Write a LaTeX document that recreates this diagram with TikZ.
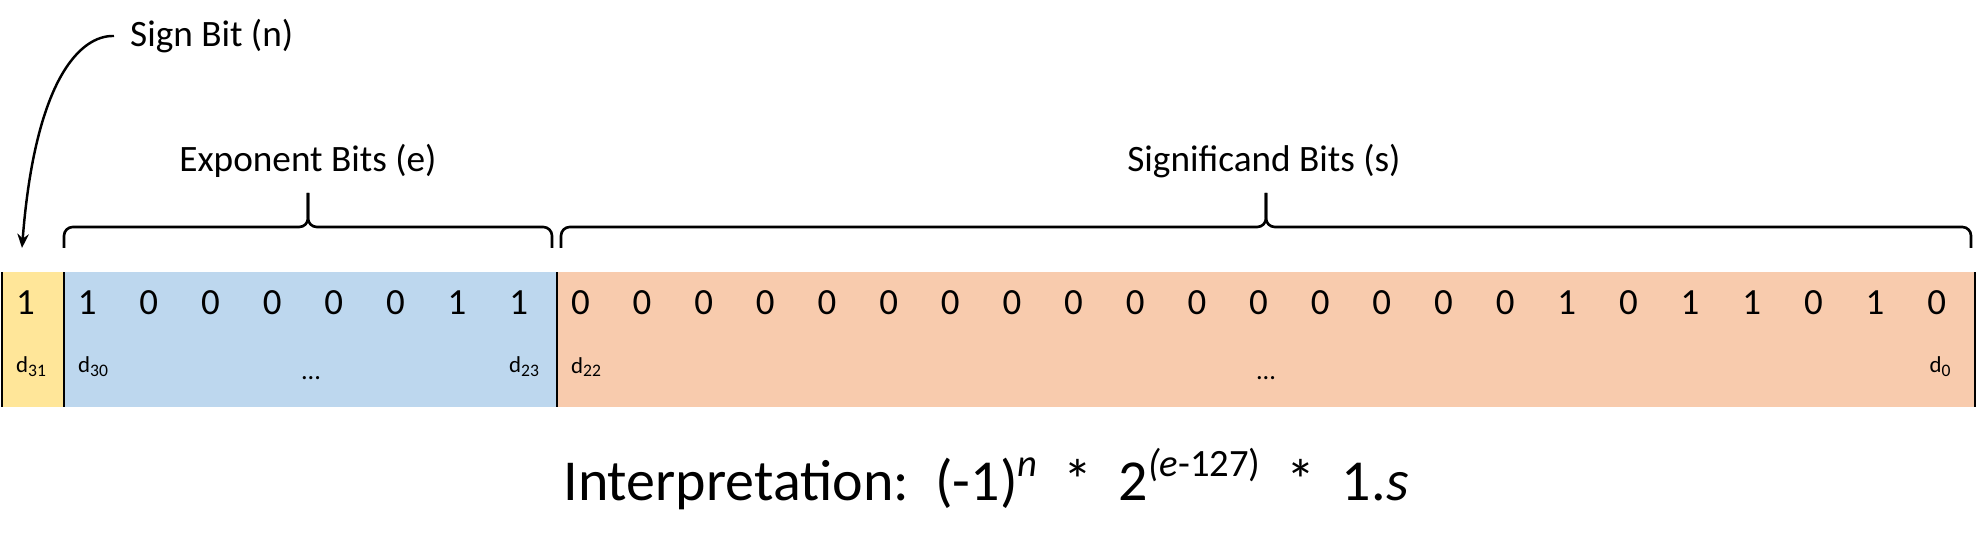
\documentclass[tikz,border=0pt]{standalone}
\usepackage{fontspec}
\setmainfont{Carlito}
\usetikzlibrary{positioning}
\usetikzlibrary{arrows.meta}
\definecolor{signyellow}{HTML}{FFE699}
\definecolor{expblue}{HTML}{BDD7EE}
\definecolor{sigorange}{HTML}{F8CBAD}
\tikzstyle{bit}=[inner sep=0pt,font=\fontsize{21}{24}\selectfont]
\tikzstyle{idx}=[inner sep=0pt,font=\fontsize{13}{15}\selectfont]
\tikzstyle{title}=[inner sep=0pt,font=\fontsize{21.2}{25}\selectfont]
\tikzstyle{divider}=[draw,line width=1.1pt]
\tikzstyle{brace}=[draw,line width=1.5pt,rounded corners=5pt]
\tikzstyle{pointer}=[draw,line width=1.4pt,-{Stealth[length=8pt,width=6.5pt]}]
\newcommand{\dsub}[1]{d\raisebox{-0.35ex}{\fontsize{10}{12}\selectfont #1}}
\newcommand{\supx}[1]{\raisebox{0.4em}{\fontsize{22}{26}\selectfont #1}}

\begin{document}
\begin{tikzpicture}[x=0.02cm,y=0.02cm]
\useasboundingbox (0,0) rectangle (1976,550);

    % the three fields of the word
    \def\w{61.65};
    \fill[signyellow] (2,143) rectangle (2+\w,278);
    \fill[expblue] (2+\w,143) rectangle (2+9*\w,278);
    \fill[sigorange] (2+9*\w,143) rectangle (2+32*\w,278);
    \foreach \k in {0,1,9,32}
        \path[divider] (2+\k*\w,143) -- (2+\k*\w,278);

    % the bits, left to right
    \foreach \v [count=\k from 0] in {1, 1,0,0,0,0,0,1,1, 0,0,0,0,0,0,0,0,0,0,0,0,0,0,0,0,1,0,1,1,0,1,0}
        \node[bit] (b\k) at (2+\k*\w+23.5,247) {\v};

    % bit indices
    \foreach \pos/\name/\label in {{(31,183)/d31/31}, {(93,183)/d30/30}, {(524,183)/d23/23}, {(586,183)/d22/22}, {(1940,183)/d0/0}}
        \node[idx] (\name) at \pos {\dsub{\label}};
    \node[idx, font=\fontsize{15}{17}\selectfont] (expdots) at (311,172) {...};
    \node[idx, font=\fontsize{15}{17}\selectfont] (sigdots) at (1266,172) {...};

    % braces and their labels
    \foreach \a/\b/\m in {64/552/308, 561/1971/1266}{
        \path[brace] (\a,302) -- (\a,323) -- (\m,323) -- (\m,357);
        \path[brace] (\b,302) -- (\b,323) -- (\m,323) -- (\m,357);
    }
    \node[title] (explbl) at (308,389) {Exponent Bits (e)};
    \node[title] (siglbl) at (1264,389) {Significand Bits (s)};

    % sign bit pointer
    \node[title, anchor=west, inner sep=9pt] (signlbl) at (114,514) {Sign Bit (n)};
    \coordinate (signtip) at (22,302);
    \path[pointer] (signlbl.west) .. controls (80,515) and (35,470) .. (signtip);

    % how to read it
    \node[inner sep=0pt, font=\fontsize{33}{40}\selectfont] (interp) at (986,71)
        {Interpretation:\ \ (-1)\supx{\textit{n}}\ \ *\ \ 2\supx{\textit{(e}-127)}\ \ *\ \ 1.\textit{s}};

\end{tikzpicture}
\end{document}
